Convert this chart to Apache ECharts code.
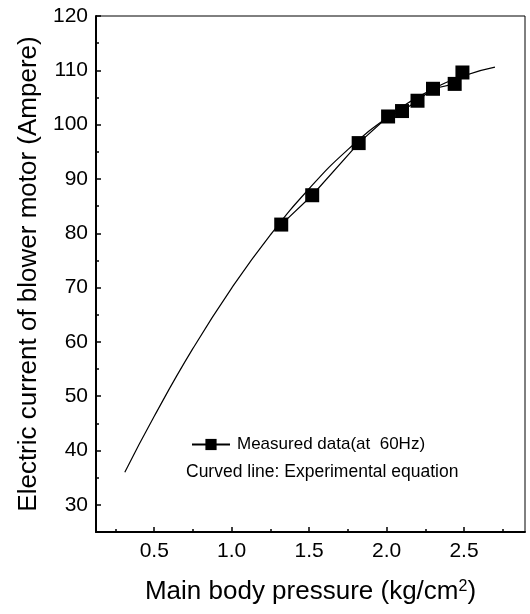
<!DOCTYPE html>
<html>
<head>
<meta charset="utf-8">
<script src="https://cdn.jsdelivr.net/npm/echarts@6/dist/echarts.min.js"></script>
<style>
  html, body { margin: 0; padding: 0; background: #fff; }
  #chart { width: 530px; height: 614px; }
</style>
</head>
<body>
<div id="chart"></div>
<script>
// Measured blower-motor current versus main body pressure
const pressure = [1.32, 1.52, 1.82, 2.01, 2.10, 2.20, 2.30, 2.44, 2.49];
const current = [81.6, 87.0, 96.6, 101.5, 102.5, 104.4, 106.6, 107.5, 109.6];

// Experimental-equation curve, sampled along its drawn path
const curveX = [0.31, 0.5, 0.75, 1.0, 1.25, 1.5, 1.75, 2.0, 2.25, 2.5, 2.7];
const curveY = [36.0, 46.3, 58.8, 69.9, 79.7, 88.2, 95.4, 101.2, 105.8, 109.0, 110.6];

// Tick positions
const xMajor = [0.5, 1.0, 1.5, 2.0, 2.5];
const xMinor = [0.25, 0.75, 1.25, 1.75, 2.25, 2.75];
const yMajor = [30, 40, 50, 60, 70, 80, 90, 100, 110, 120];
const yMinor = [35, 45, 55, 65, 75, 85, 95, 105, 115];

const legendName = 'Measured data(at  60Hz)';
const noteText = 'Curved line: Experimental equation';
const xTitle = 'Main body pressure (kg/cm{sup|2})';
const yTitle = 'Electric current of blower motor (Ampere)';

const FONT = '"Liberation Sans", Arial, sans-serif';
const X_MIN = 0.124, X_MAX = 2.894, Y_MIN = 25, Y_MAX = 120;

const chart = echarts.init(document.getElementById('chart'), null, { renderer: 'canvas' });

const baseX = {
  type: 'value', min: X_MIN, max: X_MAX, splitLine: { show: false }
};
const baseY = {
  type: 'value', min: Y_MIN, max: Y_MAX, splitLine: { show: false }
};

chart.setOption({
  animation: false,
  backgroundColor: '#fff',
  grid: {
    left: 96, top: 16, right: 5, bottom: 82,
    show: true, borderColor: '#000', borderWidth: 1, backgroundColor: 'transparent'
  },
  legend: {
    data: [legendName],
    left: 186, top: 431,
    itemWidth: 38, itemHeight: 14, itemGap: 6,
    textStyle: { fontFamily: FONT, fontSize: 17, color: '#000', padding: [0, 0, 0, 2] },
    selectedMode: false
  },
  graphic: [{
    type: 'text', left: 186, top: 463,
    style: { text: noteText, font: '17.5px ' + FONT, fill: '#000' }
  }],
  xAxis: [
    Object.assign({}, baseX, {
      name: xTitle,
      nameLocation: 'middle', nameGap: 47,
      nameTextStyle: {
        fontFamily: FONT, fontSize: 26, color: '#000',
        rich: { sup: { fontFamily: FONT, fontSize: 16, color: '#000', verticalAlign: 'top', padding: [0, 0, 10, 0] } }
      },
      axisLine: { lineStyle: { color: '#000', width: 2 } },
      axisTick: { inside: true, length: 5, customValues: xMajor, lineStyle: { color: '#000', width: 1.5 } },
      axisLabel: {
        customValues: xMajor, margin: 9,
        fontFamily: FONT, fontSize: 21, color: '#000',
        formatter: v => v.toFixed(1)
      }
    }),
    Object.assign({}, baseX, {
      position: 'bottom',
      axisLine: { show: false },
      axisTick: { inside: true, length: 3, customValues: xMinor, lineStyle: { color: '#000', width: 1.5 } },
      axisLabel: { show: false }
    })
  ],
  yAxis: [
    Object.assign({}, baseY, {
      name: yTitle,
      nameLocation: 'middle', nameGap: 54,
      nameTextStyle: { fontFamily: FONT, fontSize: 26, color: '#000' },
      axisLine: { lineStyle: { color: '#000', width: 2 } },
      axisTick: { inside: true, length: 5, customValues: yMajor, lineStyle: { color: '#000', width: 1.5 } },
      axisLabel: {
        customValues: yMajor, margin: 8,
        fontFamily: FONT, fontSize: 21, color: '#000'
      }
    }),
    Object.assign({}, baseY, {
      position: 'left',
      axisLine: { show: false },
      axisTick: { inside: true, length: 3, customValues: yMinor, lineStyle: { color: '#000', width: 1.5 } },
      axisLabel: { show: false }
    })
  ],
  series: [
    {
      name: 'Experimental equation',
      type: 'line',
      data: curveX.map((x, i) => [x, curveY[i]]),
      smooth: true,
      showSymbol: false,
      lineStyle: { color: '#000', width: 1.2 },
      z: 2
    },
    {
      name: legendName,
      type: 'line',
      data: pressure.map((x, i) => [x, current[i]]),
      symbol: 'rect',
      symbolSize: 14,
      itemStyle: { color: '#000' },
      lineStyle: { color: '#000', width: 1.2 },
      z: 3
    }
  ]
});
</script>
</body>
</html>
